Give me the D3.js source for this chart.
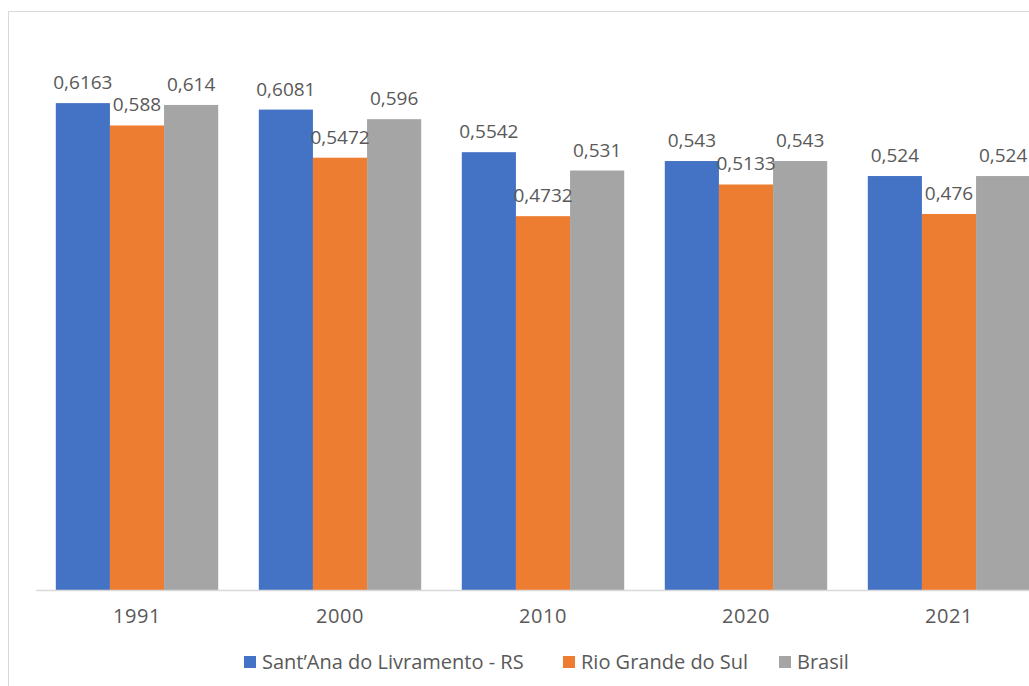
<!DOCTYPE html>
<meta charset="utf-8">
<script src="https://d3js.org/d3.v7.min.js"></script>
<style>
body { margin: 0; background: #fff; }
.lbl { font: 19px "Open Sans", sans-serif; fill: #595959; }
.leg text { font: 20px "Open Sans", sans-serif; fill: #595959; }
.tick text { font: 20px "Open Sans", sans-serif; fill: #595959; letter-spacing: 0.6px; }
</style>
<div id="chart"></div>
<script>
// data
const years = ["1991", "2000", "2010", "2020", "2021"];
const seriesNames = ["Sant\u2019Ana do Livramento - RS", "Rio Grande do Sul", "Brasil"];
const santana = [0.6163, 0.6081, 0.5542, 0.543, 0.524];
const rioGrande = [0.588, 0.5472, 0.4732, 0.5133, 0.476];
const brasil = [0.614, 0.596, 0.531, 0.543, 0.524];
const colors = ["#4472c4", "#ed7d31", "#a5a5a5"];

const W = 1029, H = 686;
const svg = d3.select("#chart").append("svg")
  .attr("width", W).attr("height", H);

// chart border
svg.append("rect")
  .attr("x", 8.5).attr("y", 11.5)
  .attr("width", W).attr("height", H)
  .attr("fill", "none").attr("stroke", "#d9d9d9");

const x = d3.scaleBand().domain(years).range([35.5, 1050.5])
  .paddingInner(0.2).paddingOuter(0.1);
const xs = d3.scaleBand().domain(d3.range(3)).range([0, x.bandwidth()]);
const y = d3.scaleLinear().domain([0, 0.7]).range([590, 37]);

const all = [santana, rioGrande, brasil];
const rows = [];
years.forEach((yr, i) => all.forEach((s, k) => rows.push({yr, k, v: s[i]})));

svg.selectAll("rect.bar").data(rows).join("rect")
  .attr("class", "bar")
  .attr("x", d => x(d.yr) + xs(d.k))
  .attr("y", d => y(d.v))
  .attr("width", xs.bandwidth())
  .attr("height", d => y(0) - y(d.v))
  .attr("fill", d => colors[d.k]);

svg.selectAll("text.val").data(rows).join("text")
  .attr("class", "lbl")
  .attr("text-anchor", "middle")
  .attr("x", d => x(d.yr) + xs(d.k) + xs.bandwidth() / 2)
  .attr("y", d => y(d.v) - 14)
  .text(d => String(d.v).replace(".", ","));

// x axis
const ax = svg.append("g")
  .attr("transform", `translate(0,${y(0)})`)
  .call(d3.axisBottom(x).tickSize(0).tickPadding(19));
ax.select(".domain").attr("stroke", "#d9d9d9").attr("stroke-width", 1.5);

// legend
const legX = [244, 563, 779];
const leg = svg.selectAll("g.leg").data(seriesNames).join("g")
  .attr("class", "leg")
  .attr("transform", (d, i) => `translate(${legX[i]},662)`);
leg.append("rect").attr("x", 0).attr("y", -6).attr("width", 12).attr("height", 12)
  .attr("fill", (d, i) => colors[i]);
leg.append("text").attr("x", 18).attr("y", 7).text(d => d);
</script>
